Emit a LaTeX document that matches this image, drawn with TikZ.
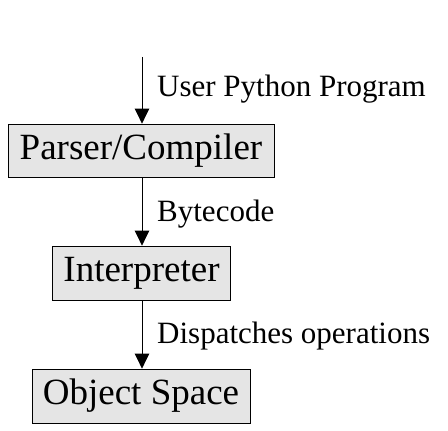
\documentclass[tikz,border=0pt]{standalone}
\usepackage{fontspec}
\setmainfont{Liberation Serif}
\usetikzlibrary{arrows.meta}
\tikzset{
	stage/.style={draw, fill=gray!20, line width=0.8pt, inner sep=0pt, font=\fontsize{37}{40}\selectfont},
	flow/.style={line width=0.8pt, arrows={-Triangle[scale length=3.1, scale width=2.6]}},
	note/.style={anchor=base west, inner sep=0pt, font=\fontsize{31}{34}\selectfont}
}
\begin{document}
\begin{tikzpicture}
			\useasboundingbox (0,0) rectangle (448pt,431pt);
			\coordinate (src) at (142pt,374pt);
			\node [stage, minimum width=266pt, minimum height=53pt] (parser) at (141pt,280.5pt) {Parser/Compiler};
			\node [stage, minimum width=178pt, minimum height=54pt] (interp) at (141.5pt,158pt) {Interpreter};
			\node [stage, minimum width=218pt, minimum height=54pt] (objspace) at (141pt,35pt) {Object Space};
			\draw [flow] (src) -- (src |- parser.north);
			\draw [flow] (src |- parser.south) -- (src |- interp.north);
			\draw [flow] (src |- interp.south) -- (src |- objspace.north);
			\node [note] (prog) at (157pt,334pt) {User Python Program};
			\node [note] (bytes) at (157pt,209pt) {Bytecode};
			\node [note] (ops) at (157pt,87pt) {Dispatches operations};
		\end{tikzpicture}
\end{document}
